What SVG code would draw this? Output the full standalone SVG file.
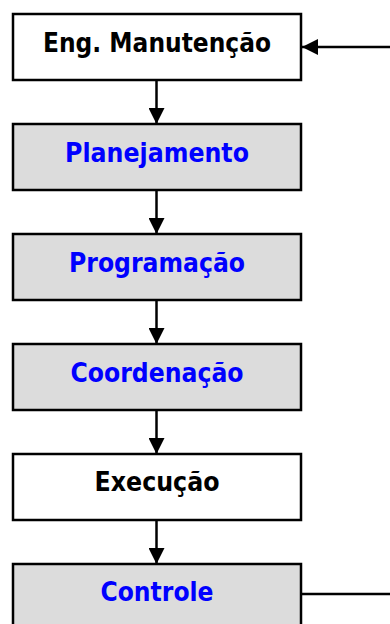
<svg xmlns="http://www.w3.org/2000/svg" width="390" height="624" viewBox="0 0 390 624">
<style>
.box{stroke:#000;stroke-width:2.5}
.w{fill:#fff}
.g{fill:#dcdcdc}
.t{font-family:"DejaVu Sans",Verdana,sans-serif;font-weight:bold;font-size:26px;text-anchor:middle}
.k{fill:#000}
.b{fill:#0000ff}
.c{stroke:#000;stroke-width:2.5;fill:none}
</style>
<defs>
<marker id="ah" markerUnits="userSpaceOnUse" markerWidth="16" markerHeight="16" refX="14" refY="7" orient="auto" viewBox="0 0 14 14">
<path d="M0,0 L14,7 L0,14 Z" fill="#000"/>
</marker>
</defs>
<rect width="390" height="624" fill="#fff"/>
<g id="connectors">
<path class="c" d="M156.5,81 V124" marker-end="url(#ah)"/>
<path class="c" d="M156.5,191 V234" marker-end="url(#ah)"/>
<path class="c" d="M156.5,301 V344" marker-end="url(#ah)"/>
<path class="c" d="M156.5,411 V454" marker-end="url(#ah)"/>
<path class="c" d="M156.5,521 V564" marker-end="url(#ah)"/>
<path class="c" d="M390,47 H302" marker-end="url(#ah)"/>
<path class="c" d="M302,594 H390"/>
</g>
<g id="eng"><rect class="box w" x="13" y="14" width="288" height="66"/><text class="t k" x="157" y="52" textLength="228" lengthAdjust="spacingAndGlyphs">Eng. Manutenção</text></g>
<g id="planejamento"><rect class="box g" x="13" y="124" width="288" height="66"/><text class="t b" x="157" y="162" textLength="184" lengthAdjust="spacingAndGlyphs">Planejamento</text></g>
<g id="programacao"><rect class="box g" x="13" y="234" width="288" height="66"/><text class="t b" x="157" y="272" textLength="176" lengthAdjust="spacingAndGlyphs">Programação</text></g>
<g id="coordenacao"><rect class="box g" x="13" y="344" width="288" height="66"/><text class="t b" x="157" y="382" textLength="173" lengthAdjust="spacingAndGlyphs">Coordenação</text></g>
<g id="execucao"><rect class="box w" x="13" y="454" width="288" height="66"/><text class="t k" x="157" y="491" textLength="125" lengthAdjust="spacingAndGlyphs">Execução</text></g>
<g id="controle"><rect class="box g" x="13" y="564" width="288" height="80"/><text class="t b" x="157" y="601" textLength="113" lengthAdjust="spacingAndGlyphs">Controle</text></g>
</svg>
